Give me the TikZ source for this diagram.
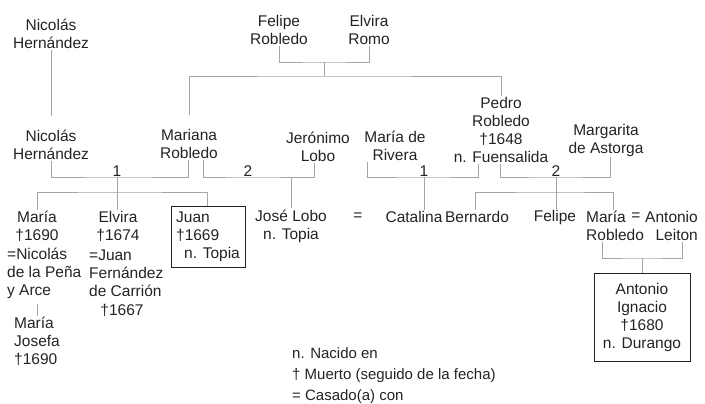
\documentclass[tikz,border=0pt]{standalone}
\usepackage{fontspec}
\setmainfont{Liberation Sans}
\definecolor{tinta}{RGB}{35,35,35}
\definecolor{gris}{RGB}{165,165,165}

\begin{document}
\begin{tikzpicture}[x=1pt,y=-1pt,
  per/.style={align=center, inner sep=1pt, text=tinta, font=\fontsize{15.5}{18}\selectfont},
  num/.style={per, inner sep=0pt},
  caja/.style={per, draw=tinta, line width=0.9pt},
  lin/.style={draw=gris, line width=0.8pt}]
\useasboundingbox (0,0) rectangle (705,404);

% generacion 1
\node [per] (nh1) at (51,34) {Nicolás\\Hernández};
\node [per] (fr) at (279,30) {Felipe\\Robledo};
\node [per] (er) at (369,30) {Elvira\\Romo};

% generacion 2
\node [per] (nh2) at (51,145) {Nicolás\\Hernández};
\node [per] (mr) at (189,144) {Mariana\\Robledo};
\node [per] (jl) at (318,147) {Jerónimo\\Lobo};
\node [per] (mdr) at (395,146) {María de\\Rivera};
\node [per] (pr) at (501,130) {Pedro\\Robledo\\†1648\\n. Fuensalida};
\node [per] (ma) at (606,140) {Margarita\\de Astorga};

% generacion 3
\node [per] (mh) at (37,226) {María\\†1690};
\node [per, align=left, anchor=west] (mhesp) at (6,273) {=Nicolás\\de la Peña\\y Arce};
\node [per, align=left, anchor=west] (mj) at (13,341) {María\\Josefa\\†1690};
\node [per] (el) at (118,226) {Elvira\\†1674};
\node [per, align=left, anchor=west] (elesp) at (88,273) {=Juan\\Fernández\\de Carrión};
\node [per] (elm) at (122,310) {†1667};
\node [caja, align=left, minimum width=74pt, minimum height=61pt] (ju) at (208,237) {Juan\\†1669\\\hspace*{8pt}n. Topia};
\node [per] (jlo) at (291,226) {José Lobo\\n. Topia};
\node [per] (eq1) at (358,217) {=};
\node [per] (ca) at (414,217) {Catalina};
\node [per] (be) at (477,217) {Bernardo};
\node [per] (fe) at (555,217) {Felipe};
\node [per, align=left, anchor=west] (mrr) at (585,226) {María\\Robledo};
\node [per] (eq2) at (636,217) {=};
\node [per, align=right, anchor=east] (al) at (699,226) {Antonio\\Leiton};
\node [caja, minimum width=96pt, minimum height=88pt] (ai) at (642,317) {Antonio\\Ignacio\\†1680\\n. Durango};

% leyenda
\node [per, align=left, anchor=west, font=\fontsize{15}{21}\selectfont] (ley) at (291,376) {n. Nacido en\\† Muerto (seguido de la fecha)\\= Casado(a) con};

% lineas
\coordinate (b0) at (324,62);
\coordinate (h0) at (324,76);
\draw [lin] (fr.south) |- (b0) -| (er.south);
\draw [lin] (b0) -- (h0);
\draw [lin, shorten <=13pt] (mr.north) |- (h0) -| (pr.north);
\draw [lin, shorten >=13pt] (nh1.south) -- (nh2.north);

\coordinate (b1) at (117,177);
\coordinate (b2) at (248,177);
\coordinate (b3) at (424,177);
\coordinate (b4) at (556,177);
\draw [lin] (nh2.south) |- (b1) -| ([xshift=-1pt]mr.south);
\draw [lin] ([xshift=14pt]mr.south) |- (b2) -| ([xshift=-4pt]jl.south);
\draw [lin] ([xshift=-28pt]mdr.south) |- (b3) -| ([xshift=-23pt]pr.south);
\draw [lin] ([xshift=-1pt]pr.south) |- (b4) -| ([xshift=4pt]ma.south);
\node [num, above] (n1) at (b1) {1};
\node [num, above] (n2) at (b2) {2};
\node [num, above] (n3) at (b3) {1};
\node [num, above] (n4) at (b4) {2};

\coordinate (s1) at (117,192);
\coordinate (s2) at (556,192);
\draw [lin] (b1) -- (s1);
\draw [lin] (mh.north) |- (s1) -| ([xshift=-1pt]ju.north);
\draw [lin] (s1) -- (el.north -| s1);
\draw [lin] (jlo.north |- b2) -- (jlo.north);
\draw [lin] (b3) -- (b3 |- ca.north);
\draw [lin] (b4) -- (s2);
\draw [lin] ([xshift=-2pt]be.north) |- (s2) -| ([xshift=-2pt]mrr.north);
\draw [lin] (s2) -- (fe.north -| s2);
\draw [lin, shorten <=4pt] (mhesp.south -| mh.south) -- (mj.north -| mh.south);

\coordinate (b5) at (642,258);
\draw [lin] ([xshift=-13pt]mrr.south) |- (b5) -| ([xshift=11pt]al.south);
\draw [lin] (b5) -- (ai.north);
\end{tikzpicture}
\end{document}
